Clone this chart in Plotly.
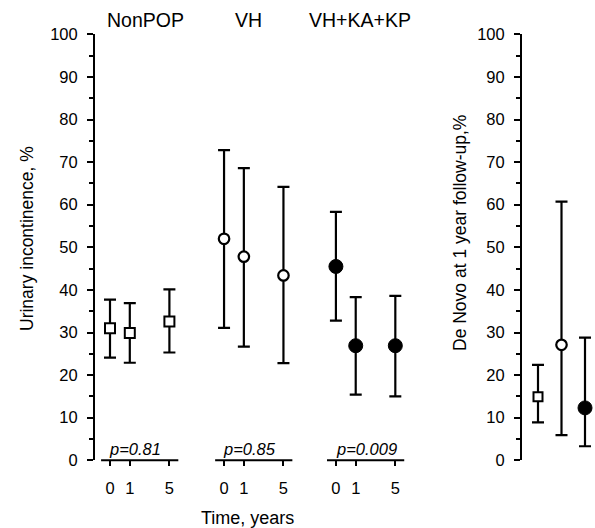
import plotly.graph_objects as go

# ---------------- data ----------------
groups = ["NonPOP", "VH", "VH+KA+KP"]
times = [0, 1, 5]
time_labels = ["0", "1", "5"]

nonpop_mean = [31.0, 29.9, 32.6]
nonpop_upper = [37.7, 36.9, 40.1]
nonpop_lower = [24.1, 22.9, 25.3]

vh_mean = [52.0, 47.8, 43.4]
vh_upper = [72.8, 68.6, 64.2]
vh_lower = [31.1, 26.7, 22.8]

vhk_mean = [45.5, 26.9, 26.9]
vhk_upper = [58.3, 38.3, 38.6]
vhk_lower = [32.8, 15.4, 15.0]

p_values = ["p=0.81", "p=0.85", "p=0.009"]

denovo_mean = [14.9, 27.1, 12.3]
denovo_upper = [22.4, 60.7, 28.8]
denovo_lower = [8.9, 5.9, 3.3]

y_ticks = list(range(0, 101, 10))

# ---------------- layout helpers ----------------
W, H = 595, 528
FONT = "Liberation Sans, Arial, sans-serif"
time_pos = {0: 0.0, 1: 1.0, 5: 3.0}          # horizontal spacing within a group
group_offset = [0.0, 5.76, 11.41]            # group start positions
PX_PER_UNIT = 19.8
X0_PX = 110                                   # pixel of first tick
LEFT_AX_PX, LEFT_END_PX = 95, 412
Y0_PX, Y100_PX = 460.3, 34.3
RIGHT_AX_PX = 522
R_FIRST_PX, R_STEP = 538, 23.5

def px_to_paper_x(px):
    return px / W

def px_to_paper_y(py):
    return (H - py) / H

y_dom = [px_to_paper_y(Y0_PX), px_to_paper_y(Y100_PX)]
x_range = [(LEFT_AX_PX - X0_PX) / PX_PER_UNIT, (LEFT_END_PX - X0_PX) / PX_PER_UNIT]
x2_range = [(RIGHT_AX_PX - R_FIRST_PX) / R_STEP, (W - R_FIRST_PX) / R_STEP]

means = [nonpop_mean, vh_mean, vhk_mean]
uppers = [nonpop_upper, vh_upper, vhk_upper]
lowers = [nonpop_lower, vh_lower, vhk_lower]

styles = [
    dict(symbol="square", size=10, color="white", line=dict(color="black", width=2)),
    dict(symbol="circle", size=10.5, color="white", line=dict(color="black", width=2.2)),
    dict(symbol="circle", size=14, color="black", line=dict(color="black", width=1)),
]
right_styles = [
    dict(symbol="square", size=9, color="white", line=dict(color="black", width=2)),
    dict(symbol="circle", size=10.5, color="white", line=dict(color="black", width=2.2)),
    dict(symbol="circle", size=14, color="black", line=dict(color="black", width=1)),
]

fig = go.Figure()

tickvals, ticktext = [], []
for g, name in enumerate(groups):
    xs = [group_offset[g] + time_pos[t] for t in times]
    tickvals += xs
    ticktext += time_labels
    m, u, l = means[g], uppers[g], lowers[g]
    fig.add_trace(go.Scatter(
        x=xs, y=m, mode="markers", name=name, xaxis="x", yaxis="y",
        marker=styles[g], cliponaxis=False,
        error_y=dict(type="data", symmetric=False,
                     array=[a - b for a, b in zip(u, m)],
                     arrayminus=[b - c for b, c in zip(m, l)],
                     color="black", thickness=2.2, width=6),
        showlegend=False,
    ))

for i, name in enumerate(groups):
    fig.add_trace(go.Scatter(
        x=[i], y=[denovo_mean[i]], mode="markers", name=name, xaxis="x2", yaxis="y2",
        marker=right_styles[i], cliponaxis=False,
        error_y=dict(type="data", symmetric=False,
                     array=[denovo_upper[i] - denovo_mean[i]],
                     arrayminus=[denovo_mean[i] - denovo_lower[i]],
                     color="black", thickness=2.2, width=6),
        showlegend=False,
    ))

# broken x-axis segments
shapes = []
for g in range(len(groups)):
    x_start = group_offset[g] + time_pos[times[0]] - 0.45
    x_end = group_offset[g] + time_pos[times[-1]] + 0.45
    shapes.append(dict(type="line", xref="x", yref="paper",
                       x0=x_start, x1=x_end, y0=y_dom[0], y1=y_dom[0],
                       line=dict(color="black", width=2)))

annotations = []
title_px = [145, 248, 360]
for g, name in enumerate(groups):
    annotations.append(dict(text=name, xref="paper", yref="paper",
                            x=px_to_paper_x(title_px[g]), y=px_to_paper_y(20),
                            showarrow=False, xanchor="center", yanchor="middle",
                            font=dict(family=FONT, size=19.5, color="black")))
p_px = [135, 249, 366]
for g, p in enumerate(p_values):
    annotations.append(dict(text="<i>" + p + "</i>", xref="paper", yref="paper",
                            x=px_to_paper_x(p_px[g]), y=px_to_paper_y(449),
                            showarrow=False, xanchor="center", yanchor="middle",
                            font=dict(family=FONT, size=16.5, color="black")))
annotations.append(dict(text="Urinary incontinence, %", xref="paper", yref="paper",
                        x=px_to_paper_x(27), y=px_to_paper_y(239), textangle=-90,
                        showarrow=False, xanchor="center", yanchor="middle",
                        font=dict(family=FONT, size=17.5, color="black")))
annotations.append(dict(text="De Novo at 1 year follow-up,%", xref="paper", yref="paper",
                        x=px_to_paper_x(460), y=px_to_paper_y(233), textangle=-90,
                        showarrow=False, xanchor="center", yanchor="middle",
                        font=dict(family=FONT, size=17.5, color="black")))
annotations.append(dict(text="Time, years", xref="paper", yref="paper",
                        x=px_to_paper_x(247), y=px_to_paper_y(518),
                        showarrow=False, xanchor="center", yanchor="middle",
                        font=dict(family=FONT, size=18, color="black")))

yaxis_common = dict(
    range=[0, 100], domain=y_dom, tickvals=y_ticks,
    showline=True, linecolor="black", linewidth=2,
    ticks="outside", ticklen=6, tickwidth=2, tickcolor="black",
    minor=dict(ticks="outside", ticklen=4, tickwidth=1.5, tickcolor="black", dtick=5, showgrid=False),
    showgrid=False, zeroline=False, ticklabelstandoff=6, automargin=False,
    tickfont=dict(family=FONT, size=16.5, color="black"),
    fixedrange=True,
)

fig.update_layout(
    template="none",
    width=W, height=H,
    margin=dict(l=0, r=0, t=0, b=0, pad=0, autoexpand=False),
    paper_bgcolor="white", plot_bgcolor="white",
    showlegend=False,
    xaxis=dict(domain=[px_to_paper_x(LEFT_AX_PX), px_to_paper_x(LEFT_END_PX)],
               range=x_range, anchor="y", automargin=False,
               tickvals=tickvals, ticktext=ticktext,
               ticks="outside", ticklen=5, tickwidth=2, tickcolor="black",
               showline=False, showgrid=False, zeroline=False,
               ticklabelstandoff=8,
               tickfont=dict(family=FONT, size=16.5, color="black")),
    yaxis=dict(anchor="x", **yaxis_common),
    xaxis2=dict(domain=[px_to_paper_x(RIGHT_AX_PX), 1.0], range=x2_range, anchor="y2",
                showline=False, showgrid=False, zeroline=False, showticklabels=False,
                ticks="", automargin=False),
    yaxis2=dict(anchor="x2", **yaxis_common),
    shapes=shapes,
    annotations=annotations,
)

fig.write_html("out.html", config={"displayModeBar": False},
               post_script="document.body.style.margin='0';document.body.style.overflow='hidden';")
